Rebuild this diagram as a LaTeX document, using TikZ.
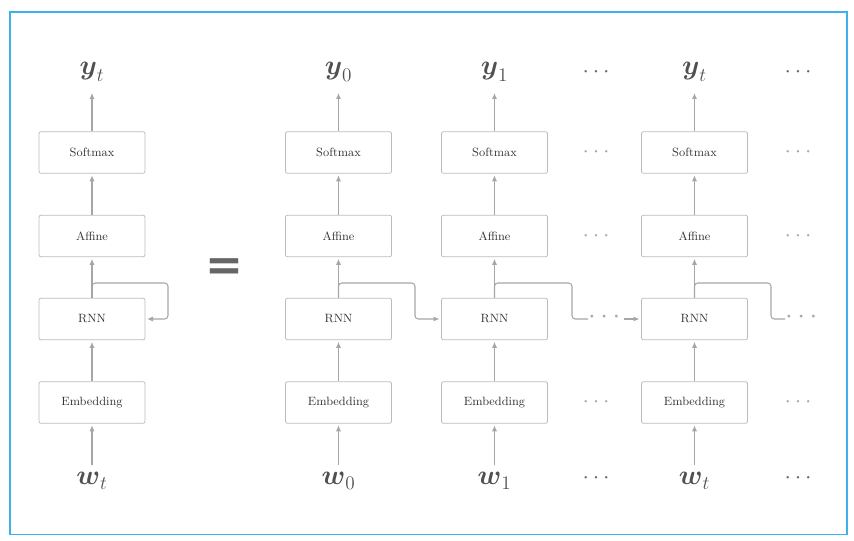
\documentclass[tikz,border=0pt]{standalone}
\usepackage{amsmath}
\usepackage{fontspec}
\newfontfamily\eqfont{DejaVu Sans}
\usetikzlibrary{arrows.meta}
\definecolor{boxgray}{HTML}{BBBBBB}
\definecolor{arrgray}{HTML}{A6A6A6}
\definecolor{txtc}{HTML}{333333}
\definecolor{labc}{HTML}{505050}
\definecolor{dotdark}{HTML}{666666}
\definecolor{dotlight}{HTML}{AAAAAA}
\definecolor{framec}{HTML}{3DB2E8}
\definecolor{eqc}{HTML}{666666}
\tikzset{
  box/.style={draw=boxgray, rounded corners=1.5pt, minimum width=79.5pt, minimum height=31.2pt,
    inner sep=0pt, font=\fontsize{9}{11}\selectfont, text=txtc, line width=0.6pt},
  arr/.style={draw=arrgray, line width=0.8pt, -{Latex[length=4.5pt,width=3.8pt]}, shorten >=1.2pt},
  loopline/.style={draw=arrgray, line width=0.8pt, rounded corners=2.5pt},
  lab/.style={text=labc, anchor=base, inner sep=0pt, font=\huge},
  dotsd/.style={text=dotdark, inner sep=0pt, font=\fontsize{17}{17}\selectfont},
  dotsl/.style={text=dotlight, inner sep=0pt, font=\fontsize{17}{17}\selectfont},
  dotsr/.style={text=dotlight, inner sep=0pt, font=\fontsize{22}{22}\selectfont},
}
\begin{document}
\begin{tikzpicture}[x=0.75pt,y=-0.75pt]
\useasboundingbox (0,0) rectangle (854,541);
\draw[draw=framec, line width=1.2pt] (10,12) rectangle (847,534.5);

\foreach \c/\x/\s in {1/92/t, 2/338.5/0, 3/494.5/1, 4/694.5/t}{
  \node[lab] (y\c) at (\x,75) {$\boldsymbol{y}_{\s}$};
  \node[box] (sm\c) at (\x,152.5) {Softmax};
  \node[box] (af\c) at (\x,236) {Affine};
  \node[box] (rnn\c) at (\x,319) {RNN};
  \node[box] (em\c) at (\x,402.5) {Embedding};
  \node[lab] (w\c) at (\x,485) {$\boldsymbol{w}_{\s}$};
  \draw[arr, shorten >=8.5pt] (sm\c.north) -- (y\c.south);
  \draw[arr] (af\c.north) -- (sm\c.south);
  \draw[arr] (rnn\c.north) -- (af\c.south);
  \draw[arr] (em\c.north) -- (rnn\c.south);
  \draw[arr, shorten <=5.5pt] (w\c.north) -- (em\c.south);
}

% dots columns
\foreach \x in {598,800}{
  \node[dotsd] (dt\x) at (\x,72.5) {$\cdots$};
  \node[dotsl] (ds\x) at (\x,152.5) {$\cdots$};
  \node[dotsl] (da\x) at (\x,236) {$\cdots$};
  \node[dotsl] (de\x) at (\x,402.5) {$\cdots$};
  \node[dotsd] (dw\x) at (\x,478) {$\cdots$};
}

% recurrent connections
\draw[loopline, -{Latex[length=4.5pt,width=3.8pt]}, shorten >=1.2pt]
  (rnn1.north) -- (92,283) -- (168,283) -- (168,319) -- (rnn1.east);
\draw[loopline, -{Latex[length=4.5pt,width=3.8pt]}, shorten >=1.2pt]
  (rnn2.north) -- (338.5,283) -- (415,283) -- (415,319) -- (rnn3.west);
\coordinate (c3a) at (588,319);
\coordinate (c3b) at (624,319);
\draw[loopline] (rnn3.north) -- (494.5,283) -- (572,283) -- (572,319) -- (c3a);
\node[dotsr] (dr3) at (606.5,317.5) {$\cdots$};
\draw[arr] (c3b) -- (rnn4.west);
\coordinate (c4a) at (785,319);
\draw[loopline] (rnn4.north) -- (694.5,283) -- (771,283) -- (771,319) -- (c4a);
\node[dotsr] (dr4) at (803.5,317.5) {$\cdots$};

% equal sign
\node[text=eqc, inner sep=0pt, font=\eqfont\bfseries\fontsize{34}{34}\selectfont] (eq) at (224,270) {=};
\end{tikzpicture}
\end{document}
